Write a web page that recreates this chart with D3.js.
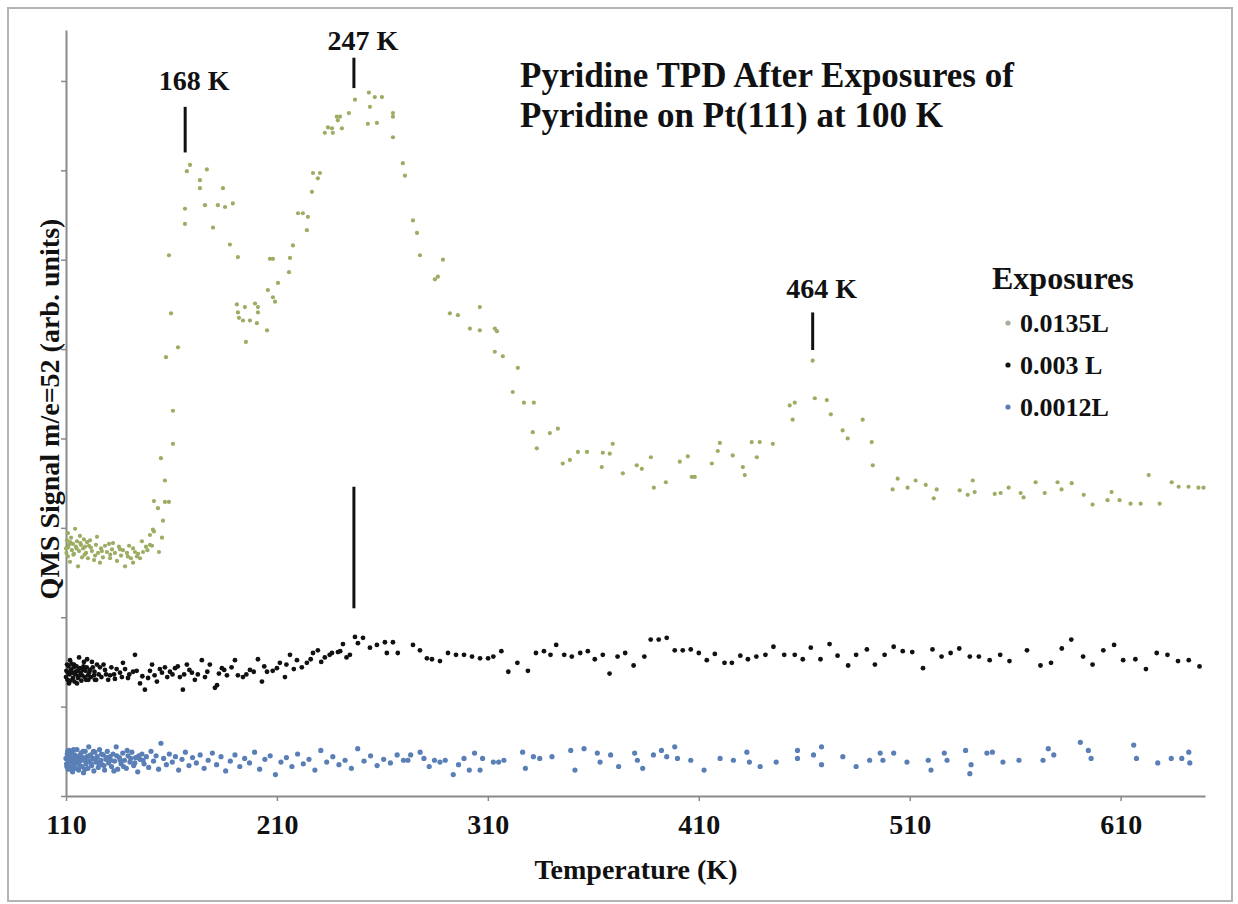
<!DOCTYPE html>
<html>
<head>
<meta charset="utf-8">
<script src="https://cdn.jsdelivr.net/npm/d3@7"></script>
<style>
  body { margin: 0; background: #fff; }
  svg text { font-family: "Liberation Serif", "Times New Roman", serif; font-weight: bold; fill: #111; }
</style>
</head>
<body>
<div id="chart"></div>
<script>
// 0.0135 L exposure (temperature K, signal arb.)
const hiT = [110.0,110.5,110.9,110.9,111.4,111.9,112.4,112.8,113.3,113.8,114.3,114.7,115.2,115.7,116.2,116.6,117.1,117.6,118.1,118.5,
  119.0,119.5,120.0,120.4,120.9,121.4,122.3,123.3,124.2,124.7,125.2,126.1,126.6,127.5,128.5,129.4,130.4,130.9,131.8,132.3,
  133.2,134.2,135.1,136.1,137.0,138.0,138.9,139.9,140.8,141.8,141.8,142.7,143.6,145.1,146.0,146.5,147.9,149.8,149.8,150.8,
  151.2,151.7,151.7,153.6,154.1,155.5,156.0,156.9,156.9,158.8,155.0,160.7,160.7,
  157.4,159.8,163.1,158.8,166.4,166.4,167.3,168.8,173.5,173.5,175.9,176.8,179.7,182.0,184.4,185.4,187.7,189.1,191.5,
  191.0,191.5,192.0,193.9,194.8,195.3,197.2,199.6,200.5,201.0,201.0,205.3,205.7,206.7,208.1,208.1,209.1,210.5,215.7,216.2,
  217.6,220.0,222.3,224.2,224.7,226.6,227.1,229.4,230.4,
  232.7,234.2,236.1,236.5,238.4,238.9,239.9,240.8,244.1,247.0,253.1,253.6,254.1,256.4,257.4,259.8,265.0,265.0,265.0,
  269.7,270.7,274.5,276.4,277.8,284.9,286.3,288.7,292.0,295.8,301.5,306.2,306.2,313.3,314.3,313.3,317.1,321.8,324.2,327.1,
  331.3,331.8,333.2,339.4,343.2,345.5,348.9,352.7,357.0,364.0,364.5,367.8,369.2,374.0,380.6,383.0,387.3,388.7,394.4,401.0,
  404.8,406.7,408.1,416.2,419.0,420.0,426.1,430.9,431.8,435.1,437.5,438.9,445.1,453.1,454.5,455.5,464.0,465.0,470.7,472.6,
  478.2,480.6,487.7,492.0,492.5,
  501.9,504.3,509.0,512.8,517.6,521.4,522.8,533.7,537.5,539.9,540.8,550.3,553.1,556.9,562.6,564.0,569.7,574.0,580.1,582.0,
  586.8,592.5,596.7,603.8,605.7,609.5,614.7,619.5,623.3,628.5,634.2,637.5,642.2,646.9,649.3,
  110.2,111.0,112.0,113.5,115.0,116.8,118.8,121.8,123.8,127.0,131.0,135.6,139.3,144.2,148.6];
const hiS = [2.77,2.86,2.94,2.68,2.81,2.62,2.89,2.75,2.82,2.71,2.99,2.79,2.85,2.57,2.74,2.91,2.81,2.67,2.77,2.87,
  2.79,2.72,2.84,2.66,2.80,2.86,2.74,2.64,2.81,2.90,2.72,2.61,2.77,2.67,2.80,2.73,2.82,2.66,2.76,2.83,
  2.72,2.63,2.79,2.69,2.75,2.57,2.72,2.80,2.66,2.77,2.61,2.73,2.68,2.66,2.85,2.73,2.79,2.92,2.81,2.80,
  2.98,2.96,3.30,3.22,2.73,2.89,3.08,3.29,3.53,3.29,3.78,3.94,4.31,
  4.91,5.40,5.02,6.05,6.40,6.57,6.99,7.06,6.89,6.80,6.61,7.01,6.36,6.61,6.80,6.59,6.17,6.63,6.03,
  5.50,5.41,5.35,5.32,5.47,5.08,5.32,5.51,5.29,5.47,5.41,5.21,5.66,6.01,6.01,5.58,5.53,5.74,5.86,6.02,
  6.16,6.52,6.52,6.33,6.48,6.76,6.97,6.91,6.97,
  7.42,7.48,7.47,7.42,7.60,7.56,7.60,7.47,7.64,7.79,7.52,7.87,7.71,7.82,7.53,7.82,7.64,7.60,7.37,
  7.08,6.94,6.44,6.30,6.05,5.78,5.81,6.00,5.40,5.38,5.23,5.47,5.21,5.23,5.20,4.97,4.92,4.52,4.79,4.40,
  4.07,4.40,3.89,4.06,4.11,3.72,3.76,3.85,3.85,3.68,3.84,3.83,3.94,3.61,3.70,3.66,3.79,3.45,3.51,3.74,
  3.80,3.57,3.57,3.72,3.86,3.95,3.81,3.68,3.59,3.96,3.79,3.96,3.94,4.37,4.21,4.40,4.87,4.45,4.43,4.27,
  4.09,4.00,4.21,3.96,3.70,
  3.43,3.55,3.45,3.53,3.48,3.33,3.43,3.42,3.37,3.53,3.40,3.38,3.39,3.45,3.39,3.34,3.51,3.39,3.51,3.43,
  3.50,3.37,3.26,3.31,3.40,3.31,3.27,3.27,3.59,3.27,3.51,3.46,3.46,3.45,3.45,
  2.72,2.78,2.84,2.70,2.77,2.83,2.70,2.78,2.69,2.74,2.70,2.76,2.68,2.71,2.75];

// 0.003 L exposure
const midT = [110.0,110.5,111.4,112.4,113.8,114.7,115.7,116.6,117.6,118.5,119.5,121.4,123.3,124.7,
  111.9,116.2,120.0,122.3,110.9,113.3,115.2,118.1,120.4,123.7,126.1,128.5,130.9,133.2,135.6,137.0,139.4,141.8,142.7,145.1,
  147.4,148.9,150.8,153.1,155.5,156.9,159.3,161.7,164.0,165.4,167.3,169.7,171.1,174.4,175.9,178.2,180.6,181.6,183.9,186.3,
  190.1,191.5,193.9,197.2,201.0,202.9,205.3,210.0,211.4,213.8,216.2,219.5,221.8,224.2,227.1,229.4,232.7,236.1,238.9,241.3,
  244.6,247.0,248.4,250.8,254.1,257.4,261.2,262.1,265.0,267.3,274.5,277.8,281.1,
  283.5,287.3,291.1,294.9,298.7,302.5,306.3,310.1,312.6,316.4,319.7,324.0,329.0,332.8,336.6,339.7,342.4,346.2,349.8,353.8,
  357.4,360.7,364.5,367.7,371.5,375.1,379.1,384.2,387.2,391.0,394.8,398.6,402.4,406.2,410.0,413.8,417.6,422.2,425.7,429.7,
  433.3,437.3,441.6,445.4,450.5,455.5,459.3,463.1,467.7,472.0,475.8,480.8,484.6,489.7,493.5,498.1,502.4,506.7,511.2,516.3,
  520.8,525.1,529.4,533.5,538.5,542.8,547.9,552.9,557.3,565.6,572.0,577.0,582.1,586.6,592.2,596.7,601.8,606.9,611.2,617.0,
  622.0,627.1,632.2,637.2,642.3,647.4,
  110.2,110.7,111.2,111.7,112.1,112.6,113.0,113.6,114.0,114.4,115.0,115.5,116.0,116.9,117.3,118.3,118.8,119.2,119.8,120.6,
  121.0,121.8,122.7,123.5,124.3,125.5,126.8,127.8,129.0,130.0,131.5,132.8,134.0,136.5,138.0,140.0,143.5,146.2,149.8,152.0,
  154.5,158.0,160.5,163.0,166.0,168.5,172.5,177.0,182.5,185.0,188.5,195.5,199.0,204.0,208.0,214.5,218.0,226.0,231.0,235.0,
  240.0,243.0];
const midS = [1.33,1.47,1.26,1.41,1.47,1.39,1.32,1.43,1.35,1.50,1.30,1.41,1.35,1.47,
  1.52,1.55,1.53,1.50,1.38,1.32,1.26,1.41,1.35,1.30,1.44,1.41,1.35,1.31,1.38,1.49,1.32,1.39,1.58,1.26,
  1.19,1.32,1.47,1.28,1.38,1.44,1.39,1.43,1.33,1.19,1.47,1.38,1.30,1.52,1.33,1.47,1.21,1.24,1.43,1.35,
  1.52,1.35,1.33,1.41,1.53,1.28,1.39,1.43,1.49,1.33,1.58,1.52,1.44,1.49,1.60,1.63,1.55,1.60,1.61,1.70,
  1.58,1.78,1.71,1.77,1.66,1.69,1.72,1.60,1.72,1.60,1.69,1.63,1.54,
  1.53,1.51,1.60,1.58,1.58,1.56,1.54,1.54,1.56,1.62,1.39,1.49,1.40,1.60,1.62,1.58,1.69,1.58,1.56,1.60,
  1.62,1.53,1.58,1.37,1.56,1.60,1.46,1.56,1.75,1.75,1.77,1.63,1.63,1.64,1.60,1.52,1.59,1.49,1.49,1.57,
  1.53,1.56,1.58,1.67,1.58,1.58,1.53,1.66,1.53,1.70,1.57,1.46,1.58,1.64,1.47,1.58,1.67,1.62,1.61,1.43,
  1.64,1.56,1.60,1.65,1.56,1.56,1.52,1.58,1.51,1.63,1.46,1.49,1.65,1.75,1.56,1.47,1.63,1.69,1.52,1.53,
  1.42,1.60,1.58,1.51,1.52,1.45,
  1.40,1.30,1.45,1.36,1.29,1.48,1.38,1.44,1.28,1.36,1.45,1.40,1.34,1.38,1.29,1.45,1.33,1.40,1.44,1.30,
  1.38,1.33,1.44,1.39,1.30,1.36,1.33,1.47,1.36,1.30,1.44,1.36,1.42,1.33,1.42,1.36,1.40,1.34,1.40,1.35,
  1.42,1.33,1.36,1.45,1.36,1.41,1.36,1.39,1.37,1.41,1.44,1.36,1.39,1.45,1.40,1.47,1.42,1.53,1.50,1.58,
  1.62,1.55];

// 0.0012 L exposure
const lowT = [110.0,110.3,110.6,111.0,111.2,111.5,111.9,112.1,112.4,112.8,113.1,113.4,113.8,114.1,114.5,114.9,115.2,115.6,116.0,116.3,
  116.7,117.1,117.5,117.9,118.3,118.7,119.1,119.5,119.9,120.4,120.8,121.2,121.7,122.2,122.7,123.2,123.7,124.2,124.8,125.3,
  125.9,126.5,127.1,127.7,128.3,128.9,129.6,130.2,130.9,131.6,132.3,133.0,133.8,134.5,135.3,136.1,136.9,137.7,138.6,139.4,
  140.3,141.2,142.1,143.0,144.0,145.0,146.0,147.0,148.1,149.2,150.3,151.5,152.7,153.9,155.0,156.3,157.6,159.0,160.4,161.9,
  163.4,165.0,166.6,168.3,170.0,171.8,173.6,175.5,177.4,179.4,181.4,183.5,185.7,187.9,190.1,192.4,194.7,197.0,199.4,201.8,
  204.3,206.8,209.3,211.9,214.5,217.1,219.8,222.5,225.2,228.0,230.8,233.6,236.5,239.4,242.3,245.3,248.3,251.3,254.4,257.5,
  260.6,263.8,267.0,270.0,
  272.1,273.4,277.9,279.7,282.2,284.7,287.3,289.8,293.6,296.1,298.7,301.2,303.7,306.3,307.5,312.6,315.1,317.6,326.5,327.8,
  331.6,334.6,340.4,349.3,351.3,355.6,361.9,363.2,368.2,372.0,379.6,380.9,383.4,388.5,392.3,394.8,398.6,399.9,406.2,412.5,
  420.1,426.4,432.8,434.0,439.1,446.7,456.8,456.8,464.4,468.2,468.2,478.3,484.6,491.0,496.0,497.3,502.4,508.7,518.8,520.1,
  526.4,527.7,536.5,538.5,539.1,546.6,549.2,554.2,561.8,573.2,575.7,578.3,590.9,594.7,596.0,616.2,617.5,627.6,634.0,639.0,
  642.3,642.8,
  110.4,110.8,111.7,112.6,113.6,114.3,115.4,116.5,117.3,118.1,118.9,119.7,121.0,122.0,123.0,124.0,125.6,126.8,128.0,129.3,
  131.2,132.7,134.1,135.7,137.3,139.0,140.7,142.6,144.5,146.5];
const lowS = [0.42,0.36,0.47,0.30,0.40,0.51,0.33,0.44,0.38,0.49,0.27,0.41,0.35,0.46,0.31,0.42,0.52,0.37,0.29,0.45,
  0.39,0.48,0.33,0.43,0.26,0.40,0.50,0.36,0.44,0.31,0.55,0.39,0.46,0.34,0.42,0.28,0.49,0.38,0.44,0.32,
  0.52,0.40,0.35,0.46,0.29,0.41,0.50,0.37,0.44,0.33,0.47,0.39,0.55,0.30,0.43,0.36,0.48,0.40,0.31,0.45,
  0.38,0.49,0.34,0.43,0.27,0.41,0.47,0.36,0.44,0.32,0.50,0.39,0.45,0.30,0.59,0.42,0.35,0.47,0.38,0.44,
  0.29,0.41,0.49,0.34,0.43,0.37,0.46,0.31,0.40,0.48,0.35,0.44,0.28,0.39,0.46,0.33,0.42,0.37,0.49,0.30,
  0.41,0.45,0.24,0.38,0.43,0.33,0.47,0.36,0.41,0.29,0.51,0.38,0.44,0.35,0.40,0.31,0.53,0.39,0.45,0.34,
  0.41,0.37,0.46,0.40,
  0.40,0.46,0.49,0.42,0.33,0.40,0.38,0.40,0.24,0.35,0.42,0.29,0.48,0.29,0.42,0.38,0.38,0.40,0.49,0.31,
  0.44,0.42,0.44,0.51,0.29,0.53,0.48,0.38,0.46,0.33,0.48,0.40,0.31,0.46,0.51,0.44,0.55,0.42,0.40,0.29,
  0.42,0.40,0.49,0.38,0.33,0.38,0.51,0.42,0.46,0.55,0.35,0.44,0.33,0.40,0.48,0.40,0.48,0.38,0.40,0.29,
  0.48,0.40,0.51,0.25,0.35,0.48,0.49,0.38,0.40,0.40,0.53,0.46,0.60,0.51,0.42,0.57,0.42,0.37,0.42,0.42,
  0.49,0.37,
  0.33,0.50,0.45,0.30,0.52,0.38,0.44,0.34,0.41,0.50,0.30,0.40,0.45,0.36,0.50,0.41,0.37,0.47,0.34,0.43,
  0.40,0.28,0.45,0.40,0.33,0.51,0.42,0.37,0.45,0.40];

const xTicks = [110, 210, 310, 410, 510, 610];
const yTicks = [0, 1, 2, 3, 4, 5, 6, 7, 8];
const expLabels = ["0.0135L", "0.003 L", "0.0012L"];
const colors = ["#9aad62", "#111111", "#5a7fb6"];
const radii = [2.1, 2.4, 2.6];

// peak markers: label, line position (K), line extent and label baseline (signal units)
const peakNames = ["168 K", "247 K", "464 K"];
const peakT = [166.5, 246.5, 464];
const peakTop = [7.71, 8.26, 5.41];
const peakBot = [7.20, 7.92, 4.99];
const peakLabelS = [7.90, 8.35, 5.57];

const W = 1238, H = 904;
const margin = {top: 30, right: 33, bottom: 108, left: 66};

let svg = d3.select("#chart").append("svg")
  .attr("width", W)
  .attr("height", H);

svg.append("rect")
  .attr("x", 8).attr("y", 8)
  .attr("width", 1224).attr("height", 893)
  .attr("fill", "#fff")
  .attr("stroke", "#b4b4b4")
  .attr("stroke-width", 2);

let x = d3.scaleLinear().domain([110, 650]).range([margin.left, W - margin.right]);
let y = d3.scaleLinear().domain([0, 8.57]).range([H - margin.bottom, margin.top]);

let xAxis = svg.append("g")
  .attr("transform", "translate(0," + y(0) + ")")
  .call(d3.axisBottom(x).tickValues(xTicks).tickSize(5).tickSizeOuter(0).tickFormat(d3.format("d")));
xAxis.select(".domain").attr("stroke", "#8a8a8a").attr("stroke-width", 2);
xAxis.selectAll(".tick line").attr("stroke", "#8a8a8a").attr("stroke-width", 1.5);
xAxis.selectAll(".tick text")
  .attr("font-family", null).attr("font-size", null)
  .style("font-size", "28px")
  .attr("y", 18)
  .attr("dy", "0.71em");

let yAxis = svg.append("g")
  .attr("transform", "translate(" + x(110) + ",0)")
  .call(d3.axisLeft(y).tickValues(yTicks).tickSize(5).tickSizeOuter(0).tickFormat(""));
yAxis.select(".domain").attr("stroke", "#8a8a8a").attr("stroke-width", 2);
yAxis.selectAll(".tick line").attr("stroke", "#8a8a8a").attr("stroke-width", 1.5);

svg.append("text")
  .attr("x", 636).attr("y", 879)
  .attr("text-anchor", "middle")
  .style("font-size", "28px")
  .text("Temperature (K)");

svg.append("text")
  .attr("transform", "translate(59,409) rotate(-90)")
  .attr("text-anchor", "middle")
  .style("font-size", "28px")
  .text("QMS Signal m/e=52 (arb. units)");

let series = [
  {T: hiT, S: hiS},
  {T: midT, S: midS},
  {T: lowT, S: lowS}
];

series.forEach(function(s, k) {
  let pts = s.T.map(function(t, i) { return {t: t, v: s.S[i]}; });
  svg.append("g").selectAll("circle")
    .data(pts)
    .enter().append("circle")
    .attr("cx", function(d) { return x(d.t); })
    .attr("cy", function(d) { return y(d.v); })
    .attr("r", radii[k])
    .attr("fill", colors[k]);
});

// peak annotations
peakNames.forEach(function(name, i) {
  svg.append("line")
    .attr("x1", x(peakT[i])).attr("x2", x(peakT[i]))
    .attr("y1", y(peakTop[i])).attr("y2", y(peakBot[i]))
    .attr("stroke", "#111").attr("stroke-width", 3);
  svg.append("text")
    .attr("x", x(peakT[i]) + 9)
    .attr("y", y(peakLabelS[i]))
    .attr("text-anchor", "middle")
    .style("font-size", "28px")
    .text(name);
});

// marker between the traces at 247 K
svg.append("line")
  .attr("x1", x(246.5)).attr("x2", x(246.5))
  .attr("y1", y(3.46)).attr("y2", y(2.10))
  .attr("stroke", "#111").attr("stroke-width", 3);

let title = svg.append("text")
  .attr("x", 520).attr("y", 87)
  .style("font-size", "35px");
title.append("tspan").attr("x", 520).text("Pyridine TPD After Exposures of");
title.append("tspan").attr("x", 520).attr("dy", 40).text("Pyridine on Pt(111) at 100 K");

// legend
svg.append("text")
  .attr("x", 992).attr("y", 289)
  .style("font-size", "32px")
  .text("Exposures");

let legend = svg.selectAll(".legend")
  .data(expLabels)
  .enter().append("g")
  .attr("class", "legend")
  .attr("transform", function(d, i) { return "translate(1008," + (323 + i * 42) + ")"; });

legend.append("circle")
  .attr("r", 2.6)
  .attr("fill", function(d, i) { return i === 0 ? "#a9ad9c" : colors[i]; });

legend.append("text")
  .attr("x", 12)
  .attr("y", 9)
  .style("font-size", "26px")
  .text(function(d) { return d; });
</script>
</body>
</html>
